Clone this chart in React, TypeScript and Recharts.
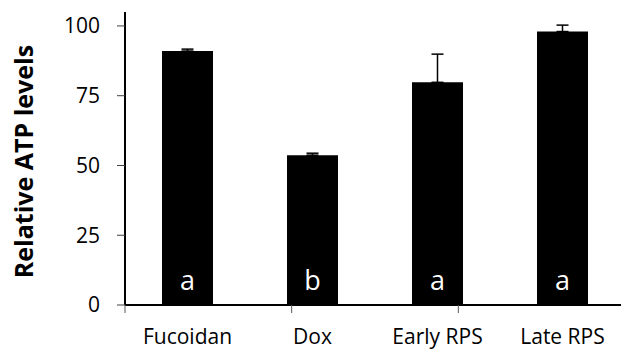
import React from "react";
import {
	Bar,
	BarChart,
	ErrorBar,
	Label,
	LabelList,
	XAxis,
	YAxis,
} from "recharts";

const categories = ["Fucoidan", "Dox", "Early RPS", "Late RPS"];
const atpLevels = [91.0, 53.7, 79.8, 98.0];
const upperErrors = [0.7, 0.7, 10.1, 2.3];
const groupLetters = ["a", "b", "a", "a"];
const yTicks = [0, 25, 50, 75, 100];
const boundaryTicks = [0, 1, 2, 3, 4];

const data = categories.map((name, i) => ({
	name,
	value: atpLevels[i],
	err: [0, upperErrors[i]],
	letter: groupLetters[i],
}));

const font = "'Open Sans', 'Noto Sans', sans-serif";

const YTitle = ({ viewBox }: any) => {
	const cx = viewBox.x + 23;
	const cy = viewBox.y + viewBox.height / 2 + 3;
	return (
		<text
			x={cx}
			y={cy}
			transform={`rotate(-90, ${cx}, ${cy})`}
			textAnchor="middle"
			dominantBaseline="central"
			fontFamily={font}
			fontWeight={700}
			fontSize={25}
			fill="#000"
		>
			Relative ATP levels
		</text>
	);
};

// boundary axis only needs its line and tick marks
const NoLabel = () => <g />;

export default function App() {
	return (
		<div
			style={{
				position: "absolute",
				left: 0,
				top: 0,
				width: 621,
				height: 352,
				overflow: "hidden",
				background: "#fff",
			}}
		>
			<BarChart
				width={625}
				height={352}
				data={data}
				margin={{ top: 12, right: 0, bottom: 0, left: 0 }}
				barSize={51}
			>
				{/* numeric axis 0..4 puts its ticks on the category boundaries */}
				<XAxis
					xAxisId={0}
					type="number"
					domain={[0, 4]}
					ticks={boundaryTicks}
					allowDataOverflow
					tick={NoLabel}
					axisLine={{ stroke: "#000", strokeWidth: 2 }}
					tickLine={{ stroke: "#595959", strokeWidth: 1 }}
					tickSize={8}
					height={1}
				/>
				<XAxis
					xAxisId="cat"
					dataKey="name"
					height={46}
					axisLine={false}
					tickLine={false}
					tickSize={0}
					tickMargin={23}
					tick={{ fill: "#000", fontSize: 21, fontFamily: font }}
					interval={0}
				/>
				<YAxis
					width={125}
					domain={[0, 105]}
					ticks={yTicks}
					allowDataOverflow
					axisLine={{ stroke: "#000", strokeWidth: 2 }}
					tickLine={{ stroke: "#404040", strokeWidth: 1 }}
					tickSize={8}
					tickMargin={17}
					tick={{ fill: "#000", fontSize: 21, fontFamily: font }}
				>
					<Label content={YTitle} />
				</YAxis>
				<Bar
					xAxisId="cat"
					dataKey="value"
					fill="#000"
					isAnimationActive={false}
				>
					<ErrorBar
						dataKey="err"
						direction="y"
						width={6}
						stroke="#000"
						strokeWidth={1.5}
						isAnimationActive={false}
					/>
					<LabelList
						dataKey="letter"
						position="insideBottom"
						offset={15}
						fill="#fff"
						fontSize={27}
						fontFamily={font}
					/>
				</Bar>
			</BarChart>
		</div>
	);
}
